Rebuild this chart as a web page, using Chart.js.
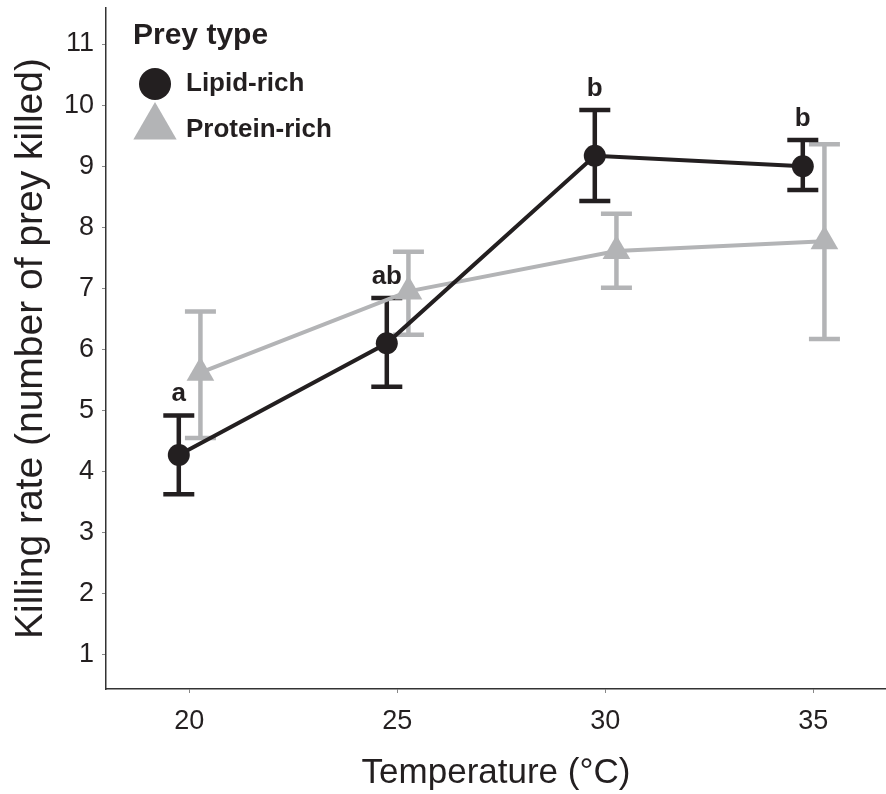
<!DOCTYPE html>
<html>
<head>
<meta charset="utf-8">
<script src="https://cdn.jsdelivr.net/npm/chart.js@4/dist/chart.umd.min.js"></script>
<style>
    html, body {margin: 0; padding: 0; background: #fff;}
    #wrap {width: 886px; height: 794px;}
</style>
</head>
<body>
<div id="wrap"><canvas id="c"></canvas></div>
<script>
// Data.
const temps = [20, 25, 30, 35];
const xTicks = [20, 25, 30, 35];
const yTicks = [1, 2, 3, 4, 5, 6, 7, 8, 9, 10, 11];
const lipidMean = [4.27, 6.10, 9.17, 9.00];
const lipidLo = [3.63, 5.39, 8.43, 8.61];
const lipidHi = [4.92, 6.84, 9.92, 9.43];
const proteinMean = [5.62, 6.95, 7.61, 7.77];
const proteinLo = [4.55, 6.24, 7.01, 6.17];
const proteinHi = [6.62, 7.60, 8.22, 9.36];
const letters = ['a', 'ab', 'b', 'b'];
const seriesNames = ['Lipid-rich', 'Protein-rich'];

const black = '#231f20', grey = '#b3b4b6';
const dodge = {lipid: -0.25, protein: 0.27};
const font = '"Liberation Sans", Arial, Helvetica, sans-serif';

const pts = (means, lo, hi, dx) => temps.map(
    (t, i) => ({x: t + dx, y: means[i], lo: lo[i], hi: hi[i]}));

// Error bars under the series, group letters and the legend on top.
const extras = {
    id: 'extras',
    beforeDatasetsDraw(chart) {
        const {ctx, scales: {x, y}} = chart;
        ctx.save();
        for (const ds of [...chart.data.datasets].reverse()) {
            ctx.strokeStyle = ds.borderColor;
            ctx.lineWidth = 4.5;
            ctx.lineCap = 'butt';
            for (const d of ds.data) {
                const px = x.getPixelForValue(d.x);
                const top = y.getPixelForValue(d.hi);
                const bot = y.getPixelForValue(d.lo);
                ctx.beginPath();
                ctx.moveTo(px, top); ctx.lineTo(px, bot);
                ctx.moveTo(px - 15.5, top); ctx.lineTo(px + 15.5, top);
                ctx.moveTo(px - 15.5, bot); ctx.lineTo(px + 15.5, bot);
                ctx.stroke();
            }
        }
        ctx.restore();
    },
    afterDraw(chart) {
        const {ctx, scales: {x, y}} = chart;
        ctx.save();
        // Letters above the lipid-rich error bars.
        ctx.fillStyle = black;
        ctx.font = `bold 26px ${font}`;
        ctx.textAlign = 'center';
        ctx.textBaseline = 'alphabetic';
        for (const [i, t] of temps.entries()) {
            const px = x.getPixelForValue(t + dodge.lipid);
            const py = y.getPixelForValue(lipidHi[i]);
            ctx.fillText(letters[i], px, py - 14);
        }
        // Legend.
        ctx.textAlign = 'left';
        ctx.font = `bold 30px ${font}`;
        ctx.fillText('Prey type', 133, 44);
        ctx.font = `bold 26px ${font}`;
        const items = [
            {style: 'circle', r: 16, cy: 84, ty: 91, color: black},
            {style: 'triangle', r: 25, cy: 127, ty: 137, color: grey},
        ];
        for (const [i, it] of items.entries()) {
            ctx.fillStyle = it.color;
            Chart.helpers.drawPoint(ctx, {
                pointStyle: it.style, radius: it.r, rotation: 0, borderWidth: 0,
            }, 155, it.cy);
            ctx.fillStyle = black;
            ctx.fillText(seriesNames[i], 186, it.ty);
        }
        ctx.restore();
    },
};

new Chart(document.getElementById('c'), {
    type: 'scatter',
    data: {
        datasets: [{
            label: seriesNames[0],
            data: pts(lipidMean, lipidLo, lipidHi, dodge.lipid),
            showLine: true,
            borderColor: black, backgroundColor: black, borderWidth: 4,
            pointStyle: 'circle', pointRadius: 11, pointBorderWidth: 0,
            pointBackgroundColor: black,
        }, {
            label: seriesNames[1],
            data: pts(proteinMean, proteinLo, proteinHi, dodge.protein),
            showLine: true,
            borderColor: grey, backgroundColor: grey, borderWidth: 4,
            pointStyle: 'triangle', pointRadius: 16, pointBorderWidth: 0,
            pointBackgroundColor: grey,
        }],
    },
    plugins: [extras],
    options: {
        responsive: true, maintainAspectRatio: false, animation: false,
        layout: {autoPadding: false,
                 padding: {top: 8, right: 0, left: 0, bottom: 0}},
        plugins: {legend: {display: false}, tooltip: {enabled: false}},
        scales: {
            x: {
                type: 'linear', min: 18.0, max: 36.75,
                afterBuildTicks: s => { s.ticks = xTicks.map(v => ({value: v})); },
                afterFit: s => {
                    s.height = 105; s.paddingLeft = 0; s.paddingRight = 0;
                },
                grid: {drawOnChartArea: false, drawTicks: true, tickLength: 4,
                       color: '#888'},
                border: {display: true, color: '#333', width: 1.5},
                ticks: {color: black, padding: 12, font: {family: font, size: 27}},
                title: {display: true, text: 'Temperature (°C)', color: black,
                        padding: {top: 22, bottom: 0},
                        font: {family: font, size: 35}},
            },
            y: {
                min: 0.44, max: 11.59,
                afterBuildTicks: s => { s.ticks = yTicks.map(v => ({value: v})); },
                afterFit: s => {
                    s.width = 106; s.paddingTop = 0; s.paddingBottom = 0;
                },
                grid: {drawOnChartArea: false, drawTicks: true, tickLength: 4,
                       color: '#888'},
                border: {display: true, color: '#333', width: 1.5},
                ticks: {color: black, padding: 8, font: {family: font, size: 27}},
                title: {display: true, text: 'Killing rate (number of prey killed)',
                        color: black, padding: {top: 8, bottom: 4},
                        font: {family: font, size: 39}},
            },
        },
    },
});
</script>
</body>
</html>
